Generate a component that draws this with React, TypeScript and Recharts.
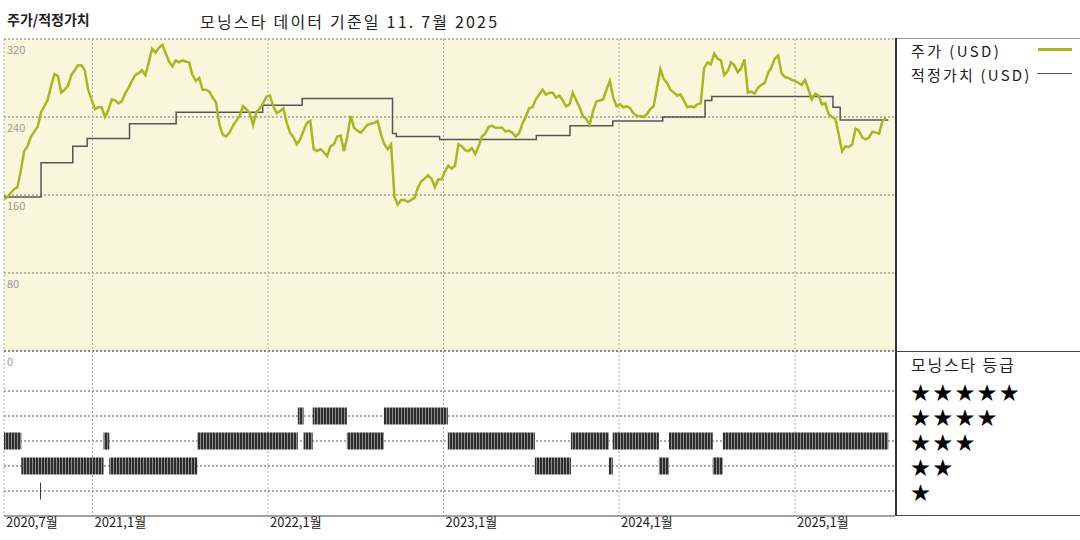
import React from 'react';
import { ComposedChart, Line, XAxis, YAxis, CartesianGrid } from 'recharts';

const START = Date.UTC(2020, 6, 1);
const dayOf = (iso: string) => Math.round((Date.parse(iso) - START) / 86400000);

// weekly closing prices (USD), first point 2020-07-01, one point every 7 days
const price2020 = [156, 158, 162, 166, 168, 185, 205, 210, 220, 225, 230, 245, 251, 258, 272, 284, 282, 265, 268, 272, 283, 288, 293, 293, 288, 268, 258];
const price2021 = [248, 250, 250, 240, 247, 258, 257, 254, 256, 264, 270, 277, 283, 285, 288, 283, 296, 310, 306, 311, 314, 306, 297, 292, 298, 296,
  298, 297, 296, 283, 277, 280, 268, 268, 266, 260, 255, 232, 222, 220, 224, 231, 236, 241, 251, 248, 244, 232, 245, 249, 254, 261];
const price2022 = [262, 251, 244, 246, 249, 234, 224, 219, 212, 217, 226, 234, 236, 207, 205, 207, 204, 200, 210, 212, 220, 221, 205, 220, 241, 229, 226,
  224, 228, 232, 233, 234, 236, 222, 212, 207, 212, 158, 150, 155, 155, 153, 155, 157, 168, 174, 177, 180, 177, 168, 176, 176];
const price2023 = [184, 190, 187, 190, 212, 210, 206, 205, 208, 202, 210, 220, 223, 230, 231, 229, 229, 229, 225, 226, 224, 220, 223, 233, 240, 249, 250, 258, 263,
  268, 263, 265, 265, 260, 262, 257, 251, 253, 265, 257, 250, 241, 238, 232, 246, 256, 257, 258, 268, 277, 260, 251];
const price2024 = [253, 250, 251, 249, 244, 241, 241, 240, 243, 248, 251, 270, 289, 279, 275, 268, 265, 262, 263, 257, 250, 251, 250, 253, 254, 290, 296, 294, 305, 300,
  298, 283, 287, 296, 293, 286, 290, 299, 265, 266, 264, 270, 273, 275, 285, 291, 300, 303, 285, 281, 280, 278];
const price2025 = [277, 275, 273, 278, 268, 258, 264, 262, 253, 254, 243, 240, 238, 222, 205, 210, 209, 212, 228, 226, 219, 217, 219, 225, 224, 223, 236, 239];

// fair value steps
const fairDates = ['2020-07-01', '2020-09-16', '2020-11-21', '2020-12-21', '2021-03-19', '2021-06-24', '2021-12-21', '2022-03-13', '2022-09-17', '2022-09-25',
  '2022-12-24', '2023-07-13', '2023-09-21', '2023-12-19', '2024-04-01', '2024-06-28', '2024-07-12', '2025-03-21', '2025-04-05', '2025-07-14'];
const fairValues = [158, 193, 210, 218, 233, 245, 252, 259, 223, 220, 217, 221, 231, 236, 240, 257, 261, 250, 237, 237];

// morningstar rating periods
const ratingStarts = ['2020-07-01', '2020-08-06', '2020-09-14', '2021-01-24', '2021-02-05', '2021-08-07', '2022-03-04', '2022-03-16', '2022-04-04', '2022-06-14',
  '2022-08-30', '2023-01-10', '2023-07-10', '2023-09-23', '2023-12-11', '2023-12-19', '2024-03-24', '2024-04-14', '2024-07-14', '2024-08-04'];
const ratingEnds = ['2020-08-06', '2021-01-24', '2020-09-16', '2021-02-05', '2021-08-07', '2022-03-04', '2022-03-16', '2022-04-04', '2022-06-14', '2022-08-30',
  '2023-01-10', '2023-07-10', '2023-09-23', '2023-12-11', '2023-12-19', '2024-03-24', '2024-04-14', '2024-07-14', '2024-08-04', '2025-07-14'];
const ratingStars = [3, 2, 1, 3, 2, 3, 4, 3, 4, 3, 4, 3, 2, 3, 2, 3, 2, 3, 2, 3];

const tickDates = ['2020-07-01', '2021-01-01', '2022-01-01', '2023-01-01', '2024-01-01', '2025-01-01'];
const tickLabels = ['2020,7월', '2021,1월', '2022,1월', '2023,1월', '2024,1월', '2025,1월'];
const priceTicks = [0, 80, 160, 240, 320];
const starRows = ['★★★★★', '★★★★', '★★★', '★★', '★'];

const OLIVE = '#a8b623';
const FONT = '"Noto Sans CJK KR", "Noto Sans", sans-serif';

const yearTicks = tickDates.map(dayOf);
const xDomain = [0, dayOf('2025-07-28')];

const priceData = [...price2020, ...price2021, ...price2022, ...price2023, ...price2024, ...price2025]
  .map((price, i) => ({ day: i * 7, price }));
const fairData = fairDates.map((d, i) => ({ day: dayOf(d), fair: fairValues[i] }));
const segments = ratingStarts.map((s, i) => ({
  id: i,
  points: [
    { day: dayOf(s), stars: ratingStars[i] },
    { day: dayOf(ratingEnds[i]), stars: ratingStars[i] },
  ],
}));

const PriceTick = (props: any) => (
  <text x={7} y={props.y + 15} fontSize={11} fill="#9a9a9a" fontFamily={FONT}>
    {props.payload.value}
  </text>
);

const DateTick = (props: any) => {
  const idx = yearTicks.indexOf(props.payload.value);
  return (
    <text x={props.x + 2} y={527} fontSize={13} fill="#222" fontFamily={FONT} textAnchor="start">
      {tickLabels[idx]}
    </text>
  );
};

const abs = (left: number, top: number, extra: React.CSSProperties = {}): React.CSSProperties => ({
  position: 'absolute', left, top, ...extra,
});

export default function App() {
  return (
    <div style={{ position: 'absolute', left: 0, top: 0, width: 1080, height: 540, background: '#fff', fontFamily: FONT }}>
      <div style={abs(7, 9, { fontSize: 14, fontWeight: 700, color: '#222', letterSpacing: 0 })}>주가/적정가치</div>
      <div style={abs(200, 9, { fontSize: 16, color: '#222', letterSpacing: 2.2 })}>모닝스타 데이터 기준일 11. 7월 2025</div>

      <div style={abs(0, 0)}>
        <ComposedChart width={900} height={540} data={priceData} margin={{ top: 39, left: 4, right: 5, bottom: 189 }}>
          <CartesianGrid vertical={false} fill="#faf6dc" stroke="#777" strokeDasharray="2 2" horizontalValues={priceTicks} />
          <CartesianGrid horizontal={false} stroke="#aaa" strokeDasharray="2 2" verticalValues={yearTicks} />
          <XAxis type="number" dataKey="day" domain={xDomain} ticks={yearTicks} hide allowDataOverflow />
          <YAxis type="number" domain={[0, 320]} ticks={priceTicks} mirror axisLine={false} tickLine={false} tick={<PriceTick />} allowDataOverflow />
          <Line data={fairData} dataKey="fair" type="stepAfter" stroke="#555" strokeWidth={1.5} dot={false} isAnimationActive={false} />
          <Line dataKey="price" type="linear" stroke={OLIVE} strokeWidth={2.5} dot={false} isAnimationActive={false} />
        </ComposedChart>
      </div>

      <div style={abs(0, 0)}>
        <ComposedChart width={900} height={540} margin={{ top: 351, left: 4, right: 5, bottom: 0 }}>
          <defs>
            <pattern id="ratingStripes" width="3" height="20" patternUnits="userSpaceOnUse">
              <rect x="0" y="0" width="3" height="20" fill="#2e2e2e" />
              <rect x="2" y="0" width="1" height="20" fill="#8c8c8c" />
            </pattern>
          </defs>
          <CartesianGrid vertical={false} stroke="#555" strokeDasharray="2 2" horizontalValues={[1, 2, 3, 4, 5, 6.6]} />
          <CartesianGrid horizontal={false} stroke="#aaa" strokeDasharray="2 2" verticalValues={yearTicks} />
          <XAxis type="number" dataKey="day" domain={xDomain} ticks={yearTicks} interval={0} allowDataOverflow height={24}
            axisLine={{ stroke: '#444' }} tickLine={false} tick={<DateTick />} />
          <YAxis type="number" domain={[0, 6.6]} hide allowDataOverflow />
          {segments.map((s) => (
            <Line key={s.id} data={s.points} dataKey="stars" type="linear" stroke="url(#ratingStripes)" strokeWidth={17}
              strokeLinecap="butt" dot={false} isAnimationActive={false} />
          ))}
        </ComposedChart>
      </div>

      {/* frame of the legend column */}
      <div style={abs(895, 38, { width: 185, height: 1, background: '#999' })} />
      <div style={abs(895, 38, { width: 1.5, height: 478, background: '#333' })} />
      <div style={abs(895, 351, { width: 185, height: 1, background: '#444' })} />
      <div style={abs(895, 515, { width: 185, height: 1, background: '#444' })} />

      <div style={abs(911, 40, { fontSize: 15, color: '#222', letterSpacing: 2.4 })}>주가 (USD)</div>
      <div style={abs(1038, 48, { width: 34, height: 3, background: OLIVE })} />
      <div style={abs(911, 64, { fontSize: 15, color: '#222', letterSpacing: 2.2 })}>적정가치 (USD)</div>
      <div style={abs(1037, 73, { width: 35, height: 1, background: '#555' })} />

      <div style={abs(911, 352, { fontSize: 16, color: '#222', letterSpacing: 1.8 })}>모닝스타 등급</div>
      {starRows.map((s, i) => (
        <div key={s} style={abs(911, 379 + i * 25, { fontSize: 19, lineHeight: '26px', color: '#000', letterSpacing: 3.2 })}>{s}</div>
      ))}
    </div>
  );
}
